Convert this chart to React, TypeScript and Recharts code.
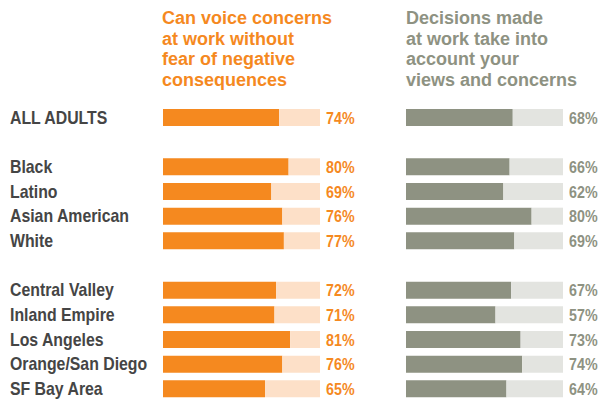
import { BarChart, Bar, XAxis, YAxis, LabelList } from "recharts";

const rows = [
  "ALL ADULTS", "", "Black", "Latino", "Asian American", "White", "",
  "Central Valley", "Inland Empire", "Los Angeles", "Orange/San Diego", "SF Bay Area",
];
const voiceConcerns = [74, null, 80, 69, 76, 77, null, 72, 71, 81, 76, 65];
const decisionsAccount = [68, null, 66, 62, 80, 69, null, 67, 57, 73, 74, 64];

const voiceTitle = ["Can voice concerns", "at work without", "fear of negative", "consequences"];
const decisionsTitle = ["Decisions made", "at work take into", "account your", "views and concerns"];

const ORANGE = "#f5891f";
const PEACH = "#fde0c8";
const GRAY = "#8e9282";
const LIGHT_GRAY = "#e3e4e0";
const SANS = "'Liberation Sans', Arial, sans-serif";

const data = rows.map((name, i) => ({
  name,
  voice: voiceConcerns[i],
  voiceRest: voiceConcerns[i] == null ? null : 100 - (voiceConcerns[i] as number),
  decisions: decisionsAccount[i],
  decisionsRest: decisionsAccount[i] == null ? null : 100 - (decisionsAccount[i] as number),
}));

// no narrow font installed, so squeeze Liberation Sans bold horizontally
const valueLabel = (color: string) => (props: any) => {
  const { value } = props;
  if (value == null) return null;
  const vb = props.viewBox ?? props;
  const x = props.x ?? vb.x;
  const y = props.y ?? vb.y;
  const w = props.width ?? vb.width;
  const h = props.height ?? vb.height;
  return (
    <text transform={`translate(${x + w + 6}, ${y + h / 2}) scale(0.84, 1)`} dy="0.36em" fill={color} fontFamily={SANS} fontWeight={700} fontSize={17}>
      {value}%
    </text>
  );
};

const rowTick = (props: any) => {
  const { y, payload } = props;
  if (!payload.value) return null;
  return (
    <text transform={`translate(10, ${y}) scale(0.88, 1)`} dy="0.36em" fill="#454545" fontFamily={SANS} fontWeight={700} fontSize={18} textAnchor="start">
      {payload.value}
    </text>
  );
};

function Title({ lines, color, left }: { lines: string[]; color: string; left: number }) {
  return (
    <div style={{ position: "absolute", left, top: 8, color, fontFamily: SANS, fontWeight: 700, fontSize: 18, lineHeight: "20.7px", whiteSpace: "nowrap" }}>
      {lines.map((l) => (
        <div key={l}>{l}</div>
      ))}
    </div>
  );
}

export default function App() {
  return (
    <div style={{ position: "absolute", left: 0, top: 0, width: 600, height: 400, background: "#fff", overflow: "hidden" }}>
      <Title lines={voiceTitle} color={ORANGE} left={162} />
      <Title lines={decisionsTitle} color={GRAY} left={406} />
      <div style={{ position: "absolute", left: 0, top: 0 }}>
        <BarChart width={360} height={401} data={data} layout="vertical" margin={{ top: 105, right: 40, bottom: 0, left: 0 }}>
          <XAxis type="number" domain={[0, 100]} hide />
          <YAxis type="category" dataKey="name" width={163} axisLine={false} tickLine={false} tick={rowTick} interval={0} />
          <Bar dataKey="voice" stackId="a" fill={ORANGE} barSize={17} isAnimationActive={false} />
          <Bar dataKey="voiceRest" stackId="a" fill={PEACH} barSize={17} isAnimationActive={false}>
            <LabelList dataKey="voice" content={valueLabel(ORANGE)} />
          </Bar>
        </BarChart>
      </div>
      <div style={{ position: "absolute", left: 360, top: 0 }}>
        <BarChart width={240} height={401} data={data} layout="vertical" margin={{ top: 105, right: 37, bottom: 0, left: 46 }}>
          <XAxis type="number" domain={[0, 100]} hide />
          <YAxis type="category" dataKey="name" hide />
          <Bar dataKey="decisions" stackId="b" fill={GRAY} barSize={17} isAnimationActive={false} />
          <Bar dataKey="decisionsRest" stackId="b" fill={LIGHT_GRAY} barSize={17} isAnimationActive={false}>
            <LabelList dataKey="decisions" content={valueLabel(GRAY)} />
          </Bar>
        </BarChart>
      </div>
    </div>
  );
}
